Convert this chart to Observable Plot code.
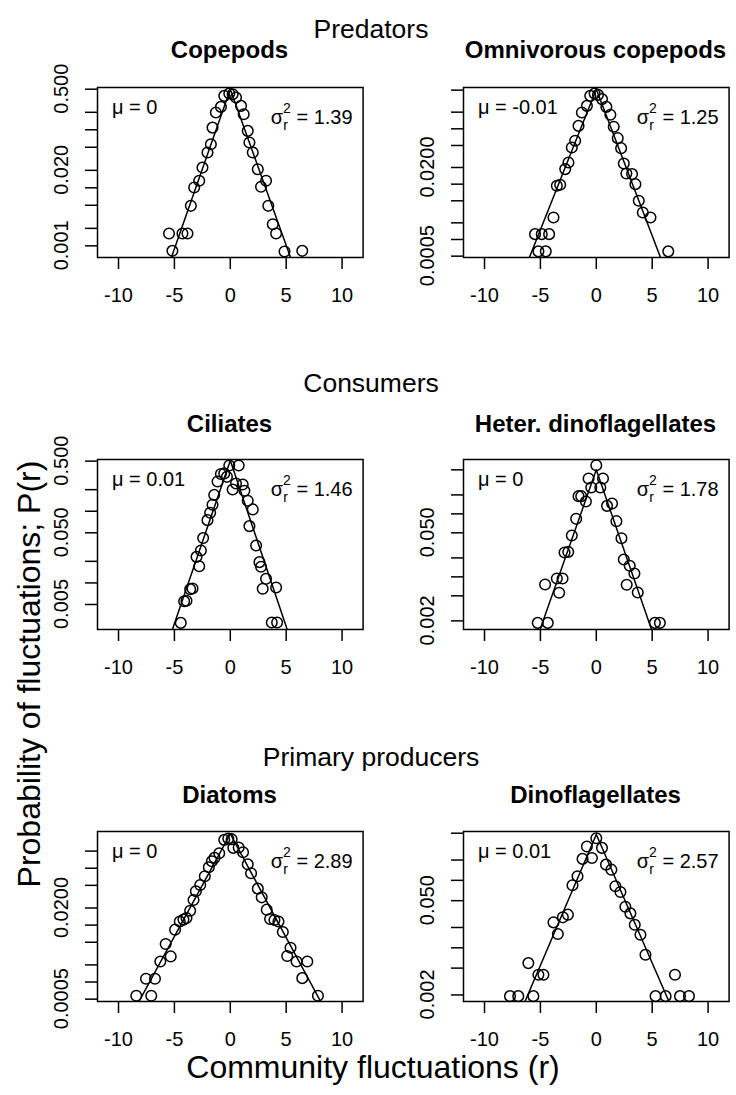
<!DOCTYPE html>
<html><head><meta charset="utf-8">
<script src="https://cdn.jsdelivr.net/npm/d3@7"></script>
<script src="https://cdn.jsdelivr.net/npm/@observablehq/plot@0.6"></script>
<style>
html,body{margin:0;padding:0;background:#fff;}
#fig{position:relative;width:736px;height:1095px;overflow:hidden;font-family:"Liberation Sans",Arial,Helvetica,sans-serif;}
</style></head><body><div id="fig"></div>
<script>
// ---------- text ----------
const groupTitles = ["Predators", "Consumers", "Primary producers"];
const panelTitles = ["Copepods", "Omnivorous copepods", "Ciliates", "Heter. dinoflagellates", "Diatoms", "Dinoflagellates"];
const muLabels = ["0", "-0.01", "0.01", "0", "0", "0.01"];
const varLabels = ["1.39", "1.25", "1.46", "1.78", "2.89", "2.57"];
const xTitle = "Community fluctuations (r)";
const yTitle = "Probability of fluctuations; P(r)";
const xTicks = [-10, -5, 0, 5, 10];

// ---------- Copepods ----------
const copepodsR = [-0.54, -0.09, 0.21, 0.51, -0.84, -1.29, 0.96, 1.20, -1.59, 1.56, -1.74, 1.71, -2.04, 2.01, -2.49, 2.46, -2.78, -3.23, 3.20, 2.75, -3.53, 3.40, -5.48, -4.28, -3.83, 3.80, 4.10, -5.18, 4.85, 6.44];
const copepodsP = [0.384, 0.421, 0.41, 0.359, 0.248, 0.198, 0.258, 0.185, 0.109, 0.0957, 0.0564, 0.0603, 0.0405, 0.0405, 0.0223, 0.0209, 0.0132, 0.0101, 0.0132, 0.0104, 0.00489, 0.00489, 0.00163, 0.00163, 0.00163, 0.00236, 0.00163, 0.00082, 0.0008, 0.00082];
const copepodsFitR = [-5.27, 0, 5.39];
const copepodsFitP = [0.00063, 0.5, 0.00063];
const copepodsYTicks = [0.5, 0.2, 0.1, 0.05, 0.02, 0.01, 0.005, 0.002, 0.001];
const copepodsYLabels = ["0.500", "0.020", "0.001"];

// ---------- Omnivorous copepods ----------
const omniR = [-0.54, -0.15, -0.84, -1.29, -1.59, -1.89, -2.19, -2.49, -2.78, -3.23, -3.53, -3.83, -5.48, -4.88, -4.22, -5.18, -4.52, 0.15, 0.51, 0.90, 1.26, 1.56, 1.92, 2.22, 2.46, 2.69, 3.20, 3.50, 3.80, 4.16, 4.85, 6.44];
const omniP = [0.394, 0.435, 0.260, 0.197, 0.113, 0.0607, 0.0459, 0.0246, 0.0187, 0.00973, 0.00933, 0.00250, 0.00125, 0.00125, 0.00125, 0.00061, 0.00061, 0.411, 0.344, 0.249, 0.179, 0.109, 0.0678, 0.0447, 0.0236, 0.0156, 0.0152, 0.0100, 0.00500, 0.00308, 0.00250, 0.00061];
const omniFitR = [-5.99, 0, 5.75];
const omniFitP = [0.00047, 0.52, 0.00047];
const omniYTicks = [0.5, 0.2, 0.1, 0.05, 0.02, 0.01, 0.005, 0.002, 0.001, 0.0005];
const omniYLabels = ["0.0200", "0.0005"];

// ---------- Ciliates ----------
const ciliatesR = [-0.09, 0.75, -0.84, -0.54, -0.30, -1.14, -1.44, -1.59, -1.80, -2.04, -2.43, -2.63, -3.02, -2.78, -3.38, -3.59, -3.92, -4.13, -4.43, 0.21, 0.51, 1.11, 1.26, 1.56, 2.01, 1.71, 2.31, 2.61, 2.75, 3.20, 2.90, 4.10, 3.71, 4.19];
const ciliatesP = [0.435, 0.435, 0.330, 0.337, 0.302, 0.260, 0.169, 0.123, 0.0951, 0.0751, 0.0422, 0.0283, 0.0231, 0.0171, 0.00836, 0.00818, 0.00563, 0.00556, 0.00277, 0.201, 0.244, 0.236, 0.193, 0.140, 0.106, 0.0620, 0.0333, 0.0195, 0.0168, 0.0114, 0.00828, 0.00864, 0.00281, 0.00281];
const ciliatesFitR = [-5.18, 0, 5.09];
const ciliatesFitP = [0.00224, 0.51, 0.00224];
const ciliatesYTicks = [0.5, 0.2, 0.1, 0.05, 0.02, 0.01, 0.005];
const ciliatesYLabels = ["0.500", "0.050", "0.005"];

// ---------- Heter. dinoflagellates ----------
const heterR = [0, -0.69, 0.60, -0.45, 0.36, -1.59, -1.35, -0.93, 0.96, 1.41, 1.80, 2.25, -1.80, -2.19, -2.51, -2.84, -3.02, -3.53, -4.58, -3.32, 2.46, 2.99, 3.41, 2.72, 3.71, -5.24, -4.34, 5.24, 5.69];
const heterP = [0.593, 0.364, 0.364, 0.262, 0.262, 0.191, 0.191, 0.157, 0.134, 0.146, 0.0766, 0.0411, 0.0834, 0.0454, 0.0249, 0.0244, 0.00942, 0.00942, 0.00757, 0.00558, 0.0189, 0.0150, 0.0113, 0.00748, 0.00565, 0.00186, 0.00186, 0.00186, 0.00186];
const heterFitR = [-5.03, 0, 4.94];
const heterFitP = [0.00146, 0.5, 0.00146];
const heterYTicks = [0.5, 0.2, 0.1, 0.05, 0.02, 0.01, 0.005, 0.002];
const heterYLabels = ["0.050", "0.002"];

// ---------- Diatoms ----------
const diatomsR = [-0.54, -0.18, -0.99, -1.41, -1.65, -1.92, -2.28, -2.69, -3.08, -3.29, -3.59, -3.92, -4.19, -4.52, -4.94, -5.78, -5.33, -6.26, -6.74, -7.54, -7.07, -8.41, 0.12, 0.27, 0.75, 1.14, 1.56, 1.86, 2.46, 2.81, 3.26, 3.56, 3.95, 4.31, 4.70, 5.39, 5.09, 5.93, 6.89, 6.44, 7.84];
const diatomsP = [0.315, 0.333, 0.183, 0.152, 0.133, 0.104, 0.0723, 0.0508, 0.0393, 0.0277, 0.0179, 0.0133, 0.0125, 0.0116, 0.00832, 0.00465, 0.00282, 0.00230, 0.00114, 0.00114, 0.000573, 0.000573, 0.324, 0.228, 0.231, 0.191, 0.117, 0.0815, 0.0438, 0.0308, 0.0187, 0.0128, 0.0123, 0.0116, 0.00755, 0.00401, 0.00286, 0.00230, 0.00230, 0.00117, 0.000573];
const diatomsFitR = [-8.17, 0, 8.08];
const diatomsFitP = [0.000455, 0.40, 0.000455];
const diatomsYTicks = [0.2, 0.1, 0.05, 0.02, 0.01, 0.005, 0.002, 0.001, 0.0005];
const diatomsYLabels = ["0.0200", "0.0005"];

// ---------- Dinoflagellates ----------
const dinoR = [0, 0.51, -0.84, -1.23, -0.39, 0.87, 1.35, -1.68, -2.13, 1.71, 2.16, 2.60, 3.05, -3.83, -2.99, -2.54, -3.44, 3.44, 3.95, 4.40, -6.08, -5.18, -4.73, -7.72, -6.98, -5.63, 5.30, 6.20, 7.49, 8.29, 7.04];
const dinoP = [0.422, 0.303, 0.317, 0.208, 0.215, 0.171, 0.144, 0.115, 0.0845, 0.0817, 0.0673, 0.0407, 0.0324, 0.0238, 0.0283, 0.0310, 0.0160, 0.0220, 0.0156, 0.00789, 0.00593, 0.00398, 0.00398, 0.00192, 0.00192, 0.00192, 0.00192, 0.00192, 0.00192, 0.00192, 0.00398];
const dinoFitR = [-6.38, 0, 6.50];
const dinoFitP = [0.0016, 0.478, 0.0016];
const dinoYTicks = [0.5, 0.2, 0.1, 0.05, 0.02, 0.01, 0.005, 0.002];
const dinoYLabels = ["0.050", "0.002"];

// ---------- assemble ----------
const panels = [
  {r: copepodsR, p: copepodsP, fitR: copepodsFitR, fitP: copepodsFitP, yDomain: [0.00063, 0.535], yTicks: copepodsYTicks, yLabels: copepodsYLabels},
  {r: omniR, p: omniP, fitR: omniFitR, fitP: omniFitP, yDomain: [0.000473, 0.558], yTicks: omniYTicks, yLabels: omniYLabels},
  {r: ciliatesR, p: ciliatesP, fitR: ciliatesFitR, fitP: ciliatesFitP, yDomain: [0.00224, 0.527], yTicks: ciliatesYTicks, yLabels: ciliatesYLabels},
  {r: heterR, p: heterP, fitR: heterFitR, fitP: heterFitP, yDomain: [0.00146, 0.73], yTicks: heterYTicks, yLabels: heterYLabels},
  {r: diatomsR, p: diatomsP, fitR: diatomsFitR, fitP: diatomsFitP, yDomain: [0.000455, 0.442], yTicks: diatomsYTicks, yLabels: diatomsYLabels},
  {r: dinoR, p: dinoP, fitR: dinoFitR, fitP: dinoFitP, yDomain: [0.0016, 0.53], yTicks: dinoYTicks, yLabels: dinoYLabels}
];

const FONT = '"Liberation Sans", Arial, Helvetica, sans-serif';
const fig = document.getElementById("fig");
const boxW = 265.6, boxH = 170;
const rowBoxTop = [86.7, 459.3, 831];
const colBoxLeft = [96.7, 462.7];
const mL = 97, mT = 7, mB = 53, mR = 8;
const LW = 1.5;
const TICK_FS = 20;
const NOTE_FS = 20;

panels.forEach((pn, i) => {
  const col = i % 2, row = Math.floor(i / 2);
  const svg = Plot.plot({
    width: mL + boxW + mR,
    height: mT + boxH + mB,
    marginLeft: mL, marginRight: mR, marginTop: mT, marginBottom: mB,
    style: {fontFamily: FONT, color: "#000", background: "transparent", overflow: "visible"},
    x: {domain: [-11.88, 11.88]},
    y: {type: "log", domain: pn.yDomain},
    marks: [
      Plot.axisX(xTicks, {tickSize: 12, text: null, strokeWidth: LW, label: null}),
      Plot.text(xTicks, {x: d => d, text: d => String(d), frameAnchor: "bottom", dy: 30.5, lineAnchor: "top",
        fontSize: TICK_FS, fontFamily: FONT, fill: "#000"}),
      Plot.axisY(pn.yTicks, {tickSize: 12, text: null, strokeWidth: LW, label: null}),
      Plot.line(pn.fitR.map((r, k) => ({r, p: pn.fitP[k]})), {x: "r", y: "p", stroke: "#000", strokeWidth: LW, clip: true}),
      Plot.dot(pn.r.map((r, k) => ({r, p: pn.p[k]})), {x: "r", y: "p", r: 5.3, stroke: "#000", strokeWidth: LW, fill: "none"}),
      Plot.frame({stroke: "#000", strokeWidth: LW})
    ]
  });
  svg.style.position = "absolute";
  svg.style.left = (colBoxLeft[col] - mL) + "px";
  svg.style.top = (rowBoxTop[row] - mT) + "px";
  fig.appendChild(svg);
  const g = d3.select(svg);
  const ys = svg.scale("y");
  // rotated y tick labels placed through the plot's y scale
  pn.yLabels.forEach(lbl => {
    g.append("text").attr("transform", `translate(${mL - 29},${ys.apply(Number(lbl))}) rotate(-90)`)
      .attr("text-anchor", "middle").attr("font-size", TICK_FS).attr("font-family", FONT).attr("fill", "#000").text(lbl);
  });
  g.append("text").attr("x", mL + 15).attr("y", mT + 27.5).attr("text-anchor", "start")
    .attr("font-size", NOTE_FS).attr("font-family", FONT).attr("fill", "#000")
    .text("\u03bc = " + muLabels[i]);
  const t = g.append("text").attr("x", mL + boxW - 10).attr("y", mT + 37.5).attr("text-anchor", "end")
    .attr("font-size", NOTE_FS).attr("font-family", FONT).attr("fill", "#000").style("white-space", "pre");
  t.append("tspan").text("\u03c3");
  t.append("tspan").attr("font-size", 14).attr("dy", 5.5).text("r");
  t.append("tspan").attr("font-size", 14).attr("dx", -4.7).attr("dy", -16.5).text("2");
  t.append("tspan").attr("dy", 11).text(" = " + varLabels[i]);
});

// overlay text
const ov = d3.select(fig).append("svg").attr("width", 736).attr("height", 1095)
  .style("position", "absolute").style("left", "0px").style("top", "0px").style("pointer-events", "none")
  .attr("font-family", FONT).attr("fill", "#000");
const groupBase = [38, 392, 766];
groupTitles.forEach((s, k) => ov.append("text").attr("x", 371).attr("y", groupBase[k]).attr("text-anchor", "middle").attr("font-size", 26.5).text(s));
const titleBase = [58, 431.7, 802.7];
panelTitles.forEach((s, i) => ov.append("text").attr("x", colBoxLeft[i % 2] + boxW / 2).attr("y", titleBase[Math.floor(i / 2)])
  .attr("text-anchor", "middle").attr("font-size", 24).attr("font-weight", "bold").text(s));
ov.append("text").attr("x", 373).attr("y", 1078).attr("text-anchor", "middle").attr("font-size", 32).text(xTitle);
ov.append("text").attr("transform", "translate(40,674) rotate(-90)").attr("text-anchor", "middle").attr("font-size", 32).text(yTitle);
</script></body></html>
